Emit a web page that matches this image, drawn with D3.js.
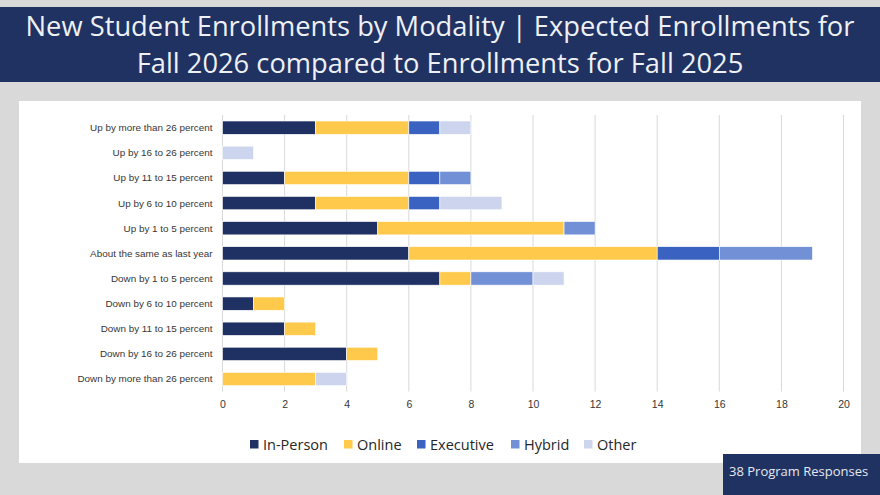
<!DOCTYPE html>
<html><head><meta charset="utf-8">
<script src="https://cdn.jsdelivr.net/npm/d3@7/dist/d3.min.js"></script>
<style>
html,body{margin:0;padding:0;background:#d9d9d9;}
svg{display:block;}
</style></head>
<body>
<svg id="chart" width="880" height="495"></svg>
<script>
const categories = [
  "Up by more than 26 percent",
  "Up by 16 to 26 percent",
  "Up by 11 to 15 percent",
  "Up by 6 to 10 percent",
  "Up by 1 to 5 percent",
  "About the same as last year",
  "Down by 1 to 5 percent",
  "Down by 6 to 10 percent",
  "Down by 11 to 15 percent",
  "Down by 16 to 26 percent",
  "Down by more than 26 percent"
];
const seriesNames = ["In-Person","Online","Executive","Hybrid","Other"];
const inPerson  = [3,0,2,3,5,6,7,1,2,4,0];
const online    = [3,0,4,3,6,8,1,1,1,1,3];
const executive = [1,0,1,1,0,2,0,0,0,0,0];
const hybrid    = [0,0,1,0,1,3,2,0,0,0,0];
const other     = [1,1,0,2,0,0,1,0,0,0,1];
const xTicks = [0,2,4,6,8,10,12,14,16,18,20];
const colors = ["#1f3062","#ffca4b","#3a62c0","#7290d6","#cdd5ee"];

const title1 = "New Student Enrollments by Modality | Expected Enrollments for";
const title2 = "Fall 2026 compared to Enrollments for Fall 2025";
const footnote = "38 Program Responses";

const svg = d3.select("#chart");
const W = 880, H = 495;
svg.append("rect").attr("width",W).attr("height",H).attr("fill","#d9d9d9");

// title band
svg.append("rect").attr("x",0).attr("y",7).attr("width",W).attr("height",75).attr("fill","#1f3262");
const tf = "'Open Sans', 'Noto Sans', sans-serif";
svg.append("text").attr("x",440).attr("y",36).attr("text-anchor","middle")
  .attr("font-family",tf).attr("font-size",27.3).attr("fill","#eef0f4").text(title1);
svg.append("text").attr("x",440).attr("y",73).attr("text-anchor","middle")
  .attr("font-family",tf).attr("font-size",27.3).attr("fill","#eef0f4").text(title2);

// white panel
svg.append("rect").attr("x",19).attr("y",101).attr("width",842).attr("height",362).attr("fill","#ffffff");

const x = d3.scaleLinear().domain([0,20]).range([222.5,843.5]);
const y = d3.scaleBand().domain(categories).range([115.1,391.6]).paddingInner(0.47).paddingOuter(0.235);

// gridlines
svg.append("g").selectAll("line").data(xTicks).join("line")
  .attr("x1",d=>x(d)).attr("x2",d=>x(d)).attr("y1",115).attr("y2",391.6)
  .attr("stroke","#d9d9d9").attr("stroke-width",1);

const table = categories.map((c,i)=>({cat:c,"In-Person":inPerson[i],"Online":online[i],"Executive":executive[i],"Hybrid":hybrid[i],"Other":other[i]}));
const stacked = d3.stack().keys(seriesNames)(table);

svg.append("g").selectAll("g").data(stacked).join("g")
  .attr("fill",(d,i)=>colors[i])
  .selectAll("rect").data(d=>d.filter(p=>p[1]-p[0]>0)).join("rect")
  .attr("x",d=>x(d[0])).attr("width",d=>x(d[1])-x(d[0]))
  .attr("y",d=>y(d.data.cat)).attr("height",y.bandwidth())
  .attr("stroke","#ffffff").attr("stroke-width",0.6);

const lf = "'Liberation Sans', Arial, sans-serif";
// category labels
svg.append("g").selectAll("text").data(categories).join("text")
  .attr("x",212.5).attr("y",d=>y(d)+y.bandwidth()/2).attr("dy","0.35em")
  .attr("text-anchor","end").attr("font-family",lf).attr("font-size",9.9).attr("fill","#363636")
  .text(d=>d);

// x axis tick labels
const xAxis = d3.axisBottom(x).tickValues(xTicks).tickSize(0).tickPadding(0);
const ax = svg.append("g").attr("transform","translate(0,401)").call(xAxis);
ax.select(".domain").remove();
ax.selectAll("text").attr("font-family",lf).attr("font-size",10.5).attr("fill","#363636");

// legend
const legendX = [250,344,417,511,584];
const lg = svg.append("g");
seriesNames.forEach((s,i)=>{
  lg.append("rect").attr("x",legendX[i]).attr("y",440).attr("width",8.5).attr("height",8.5).attr("fill",colors[i]);
  lg.append("text").attr("x",legendX[i]+13).attr("y",444.5).attr("dy","0.35em")
    .attr("font-family",tf).attr("font-size",14.5).attr("fill","#262626").text(s);
});

// footnote box
svg.append("rect").attr("x",723).attr("y",454).attr("width",157).attr("height",41).attr("fill","#1f3262");
svg.append("text").attr("x",729).attr("y",471).attr("dy","0.35em")
  .attr("font-family",tf).attr("font-size",13).attr("fill","#e6e8ee").text(footnote);
</script>
</body></html>
